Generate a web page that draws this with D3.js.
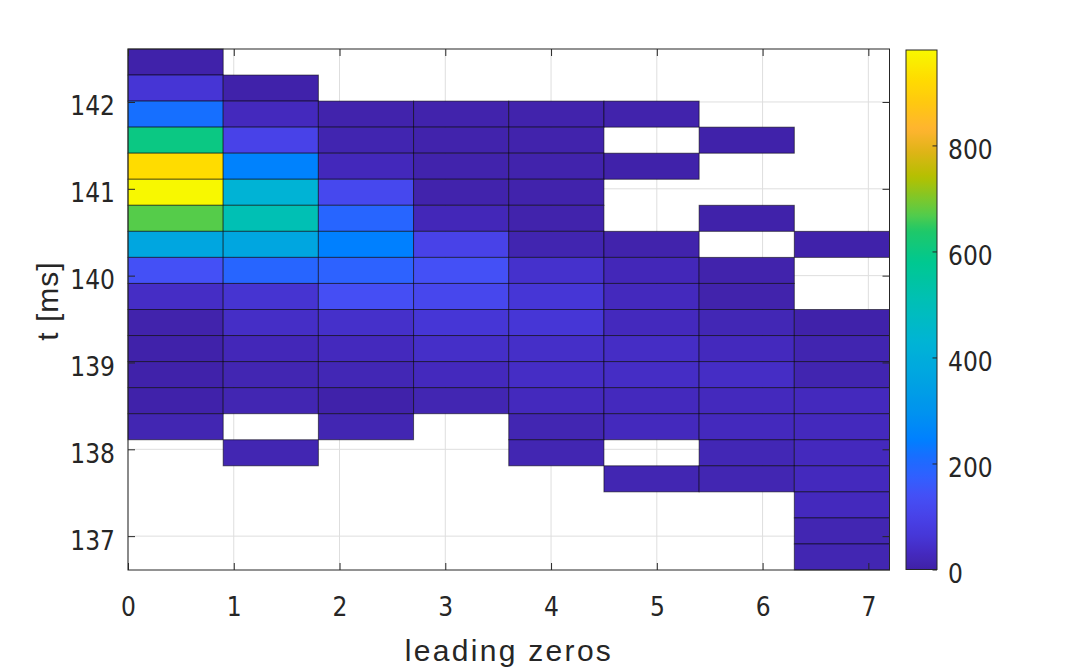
<!DOCTYPE html>
<html><head><meta charset="utf-8">
<script src="https://cdn.jsdelivr.net/npm/d3@7"></script>
<style>body{margin:0;background:#fff} svg{display:block}</style>
</head><body><svg id="c" width="1071" height="669"></svg>
<script>
// bin edges
const xEdges = [0, 0.9, 1.8, 2.7, 3.6, 4.5, 5.4, 6.3, 7.2];
const yEdges = [136.61, 136.91, 137.21, 137.51, 137.81, 138.11, 138.41, 138.71, 139.01, 139.31,
                139.61, 139.91, 140.21, 140.51, 140.81, 141.11, 141.41, 141.71, 142.01, 142.31, 142.61];
// tick labels
const xTicks = [0, 1, 2, 3, 4, 5, 6, 7];
const yTicks = [137, 138, 139, 140, 141, 142];
const cTicks = [0, 200, 400, 600, 800];
const colorMax = 980;
// counts, rows listed from the top bin (142.31-142.61) down to the bottom bin; null = empty bin
const counts = [
  [5,   null, null, null, null, null, null, null],
  [60,  5,    null, null, null, null, null, null],
  [215, 28,   8,    8,    8,    8,    null, null],
  [600, 100,  12,   8,    8,    null, 5,    null],
  [925, 250,  25,   8,    8,    5,    null, null],
  [980, 425,  118,  8,    8,    null, null, null],
  [670, 510,  190,  22,   8,    null, 5,    null],
  [370, 370,  245,  100,  12,   8,    null, 5],
  [140, 190,  180,  140,  48,   22,   8,    null],
  [38,  55,   135,  115,  62,   28,   8,    null],
  [8,   40,   45,   62,   62,   28,   18,   5],
  [5,   22,   28,   42,   42,   38,   28,   12],
  [5,   15,   18,   28,   38,   38,   38,   12],
  [5,   15,   5,    15,   28,   28,   28,   28],
  [15,  null, 15,   null, 15,   28,   28,   28],
  [null,15,   null, null, 15,   null, 18,   28],
  [null,null, null, null, null, 15,   15,   28],
  [null,null, null, null, null, null, null, 28],
  [null,null, null, null, null, null, null, 15],
  [null,null, null, null, null, null, null, 15]
];
// colormap (parula-like, as seen in the picture)
const cmapValues = [0, 15, 30, 45, 65, 100, 140, 175, 210, 245, 300, 370, 430, 510, 580, 640, 670, 740, 790, 830, 880, 925, 980];
const cmapColors = ["#3f20a6","#4226b2","#4429bf","#4530ca","#4637d8","#4842e8","#4450f6","#3060ff","#1a6cff","#0080ff",
                    "#0094ee","#00a6e0","#00b4d4","#00c0b4","#00c890","#20c868","#55cc4a","#b4c000","#e0b418","#ffb430",
                    "#ffc810","#ffdc00","#f8f800"];

const svg = d3.select("#c");
const L = 128, R = 889.5, T = 49, B = 570;
const x = d3.scaleLinear().domain([0, 7.2]).range([L, R]);
const y = d3.scaleLinear().domain([136.61, 142.61]).range([B, T]);
const color = d3.scaleLinear().domain(cmapValues).range(cmapColors).clamp(true);

const tickFont = "'Liberation Sans Narrow','DejaVu Sans Condensed','Open Sans',sans-serif";
const tickSize = 26;

// grid
const grid = svg.append("g").attr("stroke", "#dedede").attr("stroke-width", 1);
xTicks.forEach(t => grid.append("line").attr("x1", x(t)).attr("x2", x(t)).attr("y1", T).attr("y2", B));
yTicks.forEach(t => grid.append("line").attr("y1", y(t)).attr("y2", y(t)).attr("x1", L).attr("x2", R));

// tiles
const cells = [];
counts.forEach((row, i) => row.forEach((v, j) => {
  if (v == null) return;
  const r = yEdges.length - 2 - i;
  cells.push({x0: xEdges[j], x1: xEdges[j + 1], y0: yEdges[r], y1: yEdges[r + 1], v});
}));
svg.append("g").selectAll("rect").data(cells).join("rect")
  .attr("x", d => x(d.x0)).attr("width", d => x(d.x1) - x(d.x0))
  .attr("y", d => y(d.y1)).attr("height", d => y(d.y0) - y(d.y1))
  .attr("fill", d => color(d.v))
  .attr("stroke", "#000").attr("stroke-opacity", 0.55).attr("stroke-width", 1);

// axes
function styleAxis(g) {
  g.select(".domain").remove();
  g.selectAll(".tick line").attr("stroke", "#262626");
  g.selectAll("text").attr("font-family", tickFont).attr("font-size", tickSize).attr("fill", "#262626");
}
svg.append("g").attr("transform", `translate(0,${B})`)
  .call(d3.axisBottom(x).tickValues(xTicks).tickSize(-7).tickFormat(d3.format("d")))
  .call(styleAxis)
  .call(g => g.selectAll("text").attr("y", 46).attr("dy", null));
svg.append("g").attr("transform", `translate(0,${T})`)
  .call(d3.axisTop(x).tickValues(xTicks).tickSize(-7).tickFormat(""))
  .call(styleAxis);
svg.append("g").attr("transform", `translate(${L},0)`)
  .call(d3.axisLeft(y).tickValues(yTicks).tickSize(-7).tickFormat(d3.format("d")))
  .call(styleAxis)
  .call(g => g.selectAll("text").attr("x", -13).attr("dy", "0.5em"));
svg.append("g").attr("transform", `translate(${R},0)`)
  .call(d3.axisRight(y).tickValues(yTicks).tickSize(-7).tickFormat(""))
  .call(styleAxis);
svg.append("rect").attr("x", L).attr("y", T).attr("width", R - L).attr("height", B - T)
  .attr("fill", "none").attr("stroke", "#262626").attr("stroke-width", 1);

// axis labels
svg.append("text").attr("x", 509).attr("y", 661).attr("text-anchor", "middle")
  .attr("font-family", "'Liberation Sans',Arial,sans-serif").attr("font-size", 30)
  .attr("letter-spacing", 2.3).attr("fill", "#262626").text("leading zeros");
svg.append("text").attr("transform", "translate(58,301) rotate(-90)").attr("text-anchor", "middle")
  .attr("font-family", "'Liberation Sans',Arial,sans-serif").attr("font-size", 30)
  .attr("letter-spacing", 1).attr("fill", "#262626").text("t [ms]");

// colorbar
const CL = 906, CR = 937, CT = 50, CB = 569.5;
const cy = d3.scaleLinear().domain([0, colorMax]).range([CB, CT]);
const grad = svg.append("defs").append("linearGradient").attr("id", "cb")
  .attr("x1", 0).attr("y1", 1).attr("x2", 0).attr("y2", 0);
d3.range(0, 1.0001, 0.01).forEach(t => grad.append("stop").attr("offset", t).attr("stop-color", color(t * colorMax)));
svg.append("rect").attr("x", CL).attr("y", CT).attr("width", CR - CL).attr("height", CB - CT)
  .attr("fill", "url(#cb)").attr("stroke", "#262626").attr("stroke-width", 1);
svg.append("g").attr("transform", `translate(${CR},0)`)
  .call(d3.axisRight(cy).tickValues(cTicks).tickSize(-4.5).tickPadding(11).tickFormat(d3.format("d")))
  .call(styleAxis)
  .call(g => g.selectAll("text").attr("dy", "0.5em"));
</script></body></html>
